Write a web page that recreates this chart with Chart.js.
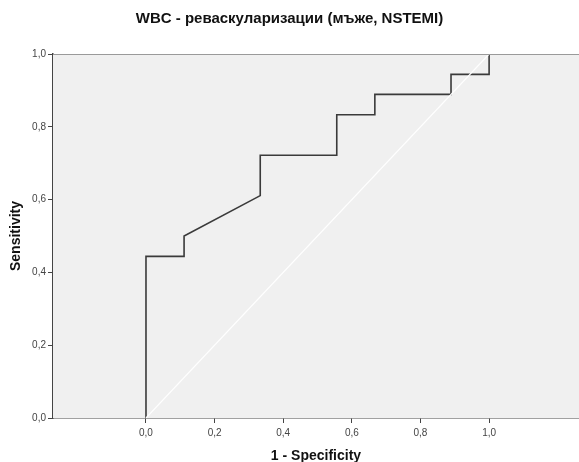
<!DOCTYPE html>
<html>
<head>
<meta charset="utf-8">
<script src="https://cdn.jsdelivr.net/npm/chart.js@4/dist/chart.umd.min.js"></script>
<style>
  html, body { margin: 0; padding: 0; background: #ffffff; }
  #wrap { width: 579px; height: 462px; position: relative; }
</style>
</head>
<body>
<div id="wrap"><canvas id="roc" width="579" height="462"></canvas></div>
<script>
// ROC curve: WBC as predictor of revascularisation (men, NSTEMI)
const falsePositiveRate = [0, 0, 0.111, 0.111, 0.333, 0.333, 0.556, 0.556, 0.667, 0.667, 0.889, 0.889, 1.0, 1.0];
const sensitivity       = [0, 0.444, 0.444, 0.5, 0.611, 0.722, 0.722, 0.833, 0.833, 0.889, 0.889, 0.944, 0.944, 1.0];
const referenceX = [0, 1];
const referenceY = [0, 1];
const tickValues = [0, 0.2, 0.4, 0.6, 0.8, 1.0];

const rocPoints = falsePositiveRate.map((x, i) => ({ x: x, y: sensitivity[i] }));
const refPoints = referenceX.map((x, i) => ({ x: x, y: referenceY[i] }));

const fmt = v => Number(v).toFixed(1).replace('.', ',');

const plotBackground = {
  id: 'plotBackground',
  beforeDatasetsDraw(chart) {
    const { ctx, chartArea: a } = chart;
    ctx.save();
    ctx.fillStyle = '#f0f0f0';
    ctx.fillRect(a.left, a.top, a.right - a.left, a.bottom - a.top);
    ctx.restore();
  },
  afterDraw(chart) {
    const { ctx, chartArea: a } = chart;
    ctx.save();
    ctx.strokeStyle = '#9a9a9a';
    ctx.lineWidth = 1;
    ctx.beginPath();
    ctx.moveTo(a.left, a.top + 0.5);
    ctx.lineTo(a.right, a.top + 0.5);
    ctx.stroke();
    ctx.restore();
  }
};

Chart.defaults.font.family = '"Liberation Sans", Arial, sans-serif';

new Chart(document.getElementById('roc'), {
  type: 'scatter',
  data: {
    datasets: [
      {
        label: 'Reference',
        data: refPoints,
        showLine: true,
        borderColor: '#ffffff',
        borderWidth: 1.2,
        pointRadius: 0,
        tension: 0,
        order: 0
      },
      {
        label: 'WBC',
        data: rocPoints,
        showLine: true,
        borderColor: '#3a3a3a',
        borderWidth: 1.6,
        pointRadius: 0,
        tension: 0,
        order: 1
      }
    ]
  },
  options: {
    responsive: false,
    animation: false,
    layout: { padding: { top: 0, right: 0, bottom: 0, left: 0 } },
    plugins: {
      legend: { display: false },
      tooltip: { enabled: false },
      title: {
        display: true,
        text: 'WBC - реваскуларизации (мъже, NSTEMI)',
        color: '#111111',
        font: { size: 15, weight: 'bold', lineHeight: 1.2 },
        padding: { top: 10, bottom: 26 }
      }
    },
    scales: {
      x: {
        type: 'linear',
        min: -0.271,
        max: 1.262,
        afterBuildTicks(scale) { scale.ticks = tickValues.map(v => ({ value: v })); },
        afterFit(scale) { scale.height = 44; },
        grid: { drawOnChartArea: false, drawTicks: true, tickLength: 5, color: '#444444', lineWidth: 1 },
        border: { display: true, color: '#444444', width: 1.5 },
        ticks: { callback: v => fmt(v), color: '#444444', font: { size: 10 }, padding: 4, maxRotation: 0 },
        title: { display: true, text: '1 - Specificity', color: '#111111', font: { size: 14, weight: 'bold', lineHeight: 1 }, padding: { top: 0, bottom: -1 } }
      },
      y: {
        type: 'linear',
        min: 0,
        max: 1,
        afterBuildTicks(scale) { scale.ticks = tickValues.map(v => ({ value: v })); },
        afterFit(scale) { scale.width = 53; },
        grid: { drawOnChartArea: false, drawTicks: true, tickLength: 5, color: '#444444', lineWidth: 1 },
        border: { display: true, color: '#444444', width: 1.5 },
        ticks: { callback: v => fmt(v), color: '#444444', font: { size: 10 }, padding: 2 },
        title: { display: true, text: 'Sensitivity', color: '#111111', font: { size: 14, weight: 'bold', lineHeight: 1.2 }, padding: { top: 8, bottom: 0 } }
      }
    }
  },
  plugins: [plotBackground]
});
</script>
</body>
</html>
